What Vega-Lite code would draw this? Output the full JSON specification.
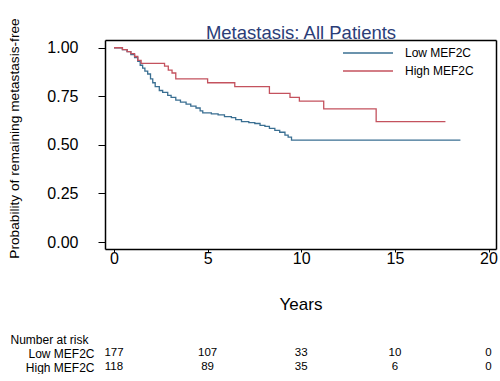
{
  "$schema": "https://vega.github.io/schema/vega-lite/v6.json",
  "padding": {"left": 7, "right": 0, "top": 17, "bottom": 0},
  "config": {
    "font": "Liberation Sans",
    "view": {"stroke": null},
    "axis": {"labelColor": "#000", "titleColor": "#000", "tickColor": "#000", "domainColor": "#000", "domainWidth": 1.5, "titleFontWeight": "normal", "grid": false}
  },
  "datasets": {
    "km": [
      {"group": "Low MEF2C", "t": 0, "s": 1.0},
      {"group": "Low MEF2C", "t": 0.45, "s": 0.99},
      {"group": "Low MEF2C", "t": 0.7, "s": 0.98},
      {"group": "Low MEF2C", "t": 0.9, "s": 0.965},
      {"group": "Low MEF2C", "t": 1.1, "s": 0.95},
      {"group": "Low MEF2C", "t": 1.27, "s": 0.93},
      {"group": "Low MEF2C", "t": 1.4, "s": 0.91},
      {"group": "Low MEF2C", "t": 1.53, "s": 0.895},
      {"group": "Low MEF2C", "t": 1.65, "s": 0.88},
      {"group": "Low MEF2C", "t": 1.8, "s": 0.865},
      {"group": "Low MEF2C", "t": 1.95, "s": 0.84},
      {"group": "Low MEF2C", "t": 2.07, "s": 0.82},
      {"group": "Low MEF2C", "t": 2.2, "s": 0.8},
      {"group": "Low MEF2C", "t": 2.42, "s": 0.78},
      {"group": "Low MEF2C", "t": 2.6, "s": 0.77},
      {"group": "Low MEF2C", "t": 2.87, "s": 0.755},
      {"group": "Low MEF2C", "t": 3.05, "s": 0.745},
      {"group": "Low MEF2C", "t": 3.3, "s": 0.73},
      {"group": "Low MEF2C", "t": 3.55, "s": 0.72},
      {"group": "Low MEF2C", "t": 3.85, "s": 0.71},
      {"group": "Low MEF2C", "t": 4.1, "s": 0.7},
      {"group": "Low MEF2C", "t": 4.38, "s": 0.69},
      {"group": "Low MEF2C", "t": 4.6, "s": 0.675},
      {"group": "Low MEF2C", "t": 4.74, "s": 0.665},
      {"group": "Low MEF2C", "t": 5.2, "s": 0.66},
      {"group": "Low MEF2C", "t": 5.56, "s": 0.655},
      {"group": "Low MEF2C", "t": 5.9, "s": 0.645},
      {"group": "Low MEF2C", "t": 6.27, "s": 0.64},
      {"group": "Low MEF2C", "t": 6.5, "s": 0.63},
      {"group": "Low MEF2C", "t": 6.81, "s": 0.62},
      {"group": "Low MEF2C", "t": 7.2, "s": 0.615},
      {"group": "Low MEF2C", "t": 7.52, "s": 0.61},
      {"group": "Low MEF2C", "t": 7.8, "s": 0.6},
      {"group": "Low MEF2C", "t": 8.06, "s": 0.595},
      {"group": "Low MEF2C", "t": 8.3, "s": 0.585},
      {"group": "Low MEF2C", "t": 8.59, "s": 0.575},
      {"group": "Low MEF2C", "t": 8.85, "s": 0.565},
      {"group": "Low MEF2C", "t": 9.13, "s": 0.55},
      {"group": "Low MEF2C", "t": 9.3, "s": 0.54},
      {"group": "Low MEF2C", "t": 9.48, "s": 0.525},
      {"group": "Low MEF2C", "t": 18.5, "s": 0.525},
      {"group": "High MEF2C", "t": 0, "s": 1.0},
      {"group": "High MEF2C", "t": 0.45, "s": 0.99},
      {"group": "High MEF2C", "t": 0.7, "s": 0.98},
      {"group": "High MEF2C", "t": 0.9, "s": 0.97},
      {"group": "High MEF2C", "t": 1.1, "s": 0.955},
      {"group": "High MEF2C", "t": 1.27, "s": 0.935},
      {"group": "High MEF2C", "t": 1.45, "s": 0.92},
      {"group": "High MEF2C", "t": 2.7, "s": 0.905},
      {"group": "High MEF2C", "t": 2.9, "s": 0.885},
      {"group": "High MEF2C", "t": 3.1, "s": 0.87},
      {"group": "High MEF2C", "t": 3.3, "s": 0.84},
      {"group": "High MEF2C", "t": 5.0, "s": 0.82},
      {"group": "High MEF2C", "t": 6.45, "s": 0.8},
      {"group": "High MEF2C", "t": 8.3, "s": 0.765},
      {"group": "High MEF2C", "t": 9.4, "s": 0.745},
      {"group": "High MEF2C", "t": 9.9, "s": 0.725},
      {"group": "High MEF2C", "t": 11.2, "s": 0.685},
      {"group": "High MEF2C", "t": 14.0, "s": 0.62},
      {"group": "High MEF2C", "t": 17.7, "s": 0.62}
    ],
    "risk": [
      {"group": "Low MEF2C", "t": 0, "n": 177},
      {"group": "Low MEF2C", "t": 5, "n": 107},
      {"group": "Low MEF2C", "t": 10, "n": 33},
      {"group": "Low MEF2C", "t": 15, "n": 10},
      {"group": "Low MEF2C", "t": 20, "n": 0},
      {"group": "High MEF2C", "t": 0, "n": 118},
      {"group": "High MEF2C", "t": 5, "n": 89},
      {"group": "High MEF2C", "t": 10, "n": 35},
      {"group": "High MEF2C", "t": 15, "n": 6},
      {"group": "High MEF2C", "t": 20, "n": 0}
    ]
  },
  "spacing": 21,
  "vconcat": [
    {
      "width": 391,
      "height": 209,
      "data": {"name": "km"},
      "resolve": {"axis": {"x": "independent", "y": "independent"}},
      "layer": [
        {
          "mark": {"type": "line", "interpolate": "step-after", "strokeWidth": 1.3},
          "encoding": {
            "x": {
              "field": "t", "type": "quantitative",
              "scale": {"domain": [-0.48, 20.4], "nice": false, "zero": false},
              "axis": {"values": [0, 5, 10, 15, 20], "domain": true, "tickSize": 3, "labelFontSize": 16, "labelPadding": -2, "title": "Years", "titleFontSize": 17, "titlePadding": 30}
            },
            "y": {
              "field": "s", "type": "quantitative",
              "scale": {"domain": [-0.036, 1.04], "nice": false, "zero": false},
              "axis": {"values": [0, 0.25, 0.5, 0.75, 1], "format": ".2f", "domain": true, "tickSize": 7, "labelFontSize": 16, "labelPadding": 20, "title": "Probability of remaining metastasis-free", "titleFontSize": 13.7, "titlePadding": 25, "titleY": 98}
            },
            "color": {
              "field": "group", "type": "nominal",
              "scale": {"domain": ["Low MEF2C", "High MEF2C"], "range": ["#3a6f92", "#c4525e"]},
              "legend": {"orient": "none", "legendX": 257, "legendY": 7, "title": null, "symbolType": "M-5,0H5", "symbolSize": 100, "symbolStrokeWidth": 1.5, "labelFontSize": 12, "labelOffset": 31, "rowPadding": 6, "labelLimit": 200}
            }
          }
        },
        {
          "mark": {"type": "line", "strokeOpacity": 0},
          "encoding": {
            "x": {"field": "t", "type": "quantitative", "axis": {"orient": "top", "domain": true, "ticks": false, "labels": false, "title": "Metastasis: All Patients", "titleColor": "#2b3d78", "titleFontSize": 18.5, "titleBaseline": "alphabetic", "titlePadding": 2}},
            "y": {"field": "s", "type": "quantitative", "axis": {"orient": "right", "domain": true, "ticks": false, "labels": false, "title": null}}
          }
        }
      ]
    },
    {
      "width": 391,
      "height": 28,
      "data": {"name": "risk"},
      "mark": {"type": "text", "fontSize": 11.5, "align": "center", "baseline": "middle", "color": "#000"},
      "encoding": {
        "x": {"field": "t", "type": "quantitative", "scale": {"domain": [-0.48, 20.4], "nice": false, "zero": false}, "axis": null},
        "y": {
          "field": "group", "type": "nominal",
          "scale": {"domain": ["Low MEF2C", "High MEF2C"], "paddingInner": 0, "paddingOuter": 0},
          "axis": {"domain": false, "ticks": false, "labelFontSize": 12, "labelPadding": 11, "title": "Number at risk", "titleFontSize": 12, "titleAngle": 0, "titleAlign": "left", "titleBaseline": "middle", "titleX": -95, "titleY": -7}
        },
        "text": {"field": "n", "type": "quantitative"}
      }
    }
  ]
}
